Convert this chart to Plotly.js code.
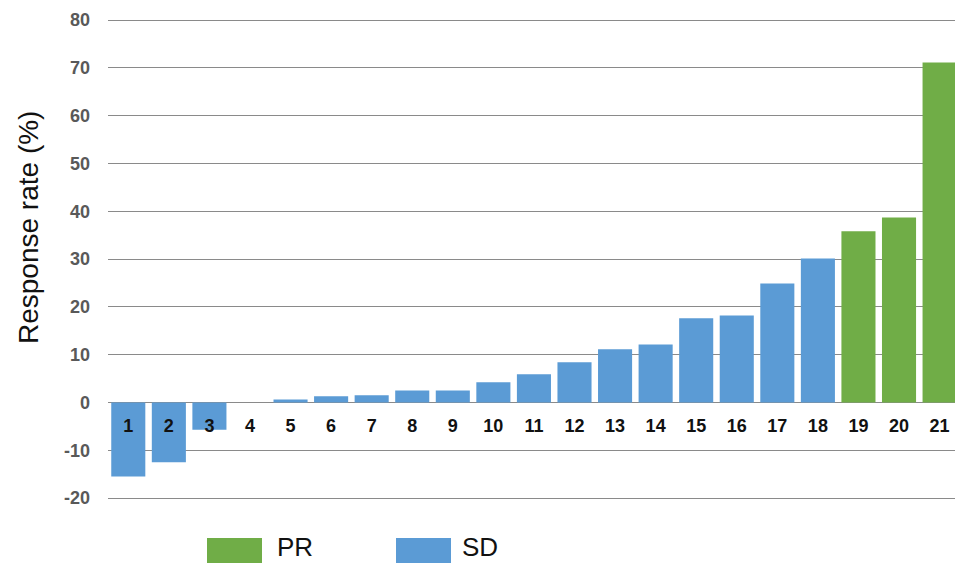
<!DOCTYPE html>
<html>
<head>
<meta charset="utf-8">
<script src="https://cdn.plot.ly/plotly-3.0.1.min.js"></script>
<style>html,body{margin:0;padding:0;background:#fff;}#chart{width:955px;height:563px;}</style>
</head>
<body>
<div id="chart"></div>
<script>
const patients = [1,2,3,4,5,6,7,8,9,10,11,12,13,14,15,16,17,18,19,20,21];
const sdPatients = [1,2,3,4,5,6,7,8,9,10,11,12,13,14,15,16,17,18];
const sdValues = [-15.5,-12.5,-5.7,0,0.6,1.3,1.5,2.5,2.5,4.2,5.9,8.4,11.1,12.1,17.6,18.2,24.9,30.1];
const prPatients = [19,20,21];
const prValues = [35.8,38.7,71.1];
const yTicks = [-20,-10,0,10,20,30,40,50,60,70,80];
const legendLabels = ['PR','SD'];
const blue = '#5B9BD5', green = '#70AD47';

// plot area in pixels: x 108..955, y 15..503 (80 at y=20, -20 at y=498)
const L = 108, W = 847, T = 15, H = 488;
const pxPerUnit = 478 / 100;
const padU = 5 / pxPerUnit;
const yMin = -20 - padU, yMax = 80 + padU;
const px = x => (x - L) / W;
const py = y => (T + H - y) / H;

const traces = [
  {type:'bar', x: sdPatients, y: sdValues, name:'SD', marker:{color: blue}, showlegend:false, hoverinfo:'x+y'},
  {type:'bar', x: prPatients, y: prValues, name:'PR', marker:{color: green}, showlegend:false, hoverinfo:'x+y'}
];

const layout = {
  width: 955, height: 563,
  margin: {l: L, r: 0, t: T, b: 563 - T - H, pad: 0},
  paper_bgcolor: '#fff', plot_bgcolor: '#fff',
  barmode: 'overlay', bargap: 0.16,
  font: {family: 'Liberation Sans, Arial, sans-serif'},
  xaxis: {
    range: [0.5, 21.38],
    tickvals: patients, ticktext: patients.map(String),
    anchor: 'free', position: (0 - yMin) / (yMax - yMin),
    showgrid: false, zeroline: false, showline: false, ticks: '',
    ticklabelstandoff: 11,
    tickfont: {size: 18, color: '#111', family: 'Liberation Sans, Arial, sans-serif', weight: 'bold'},
    fixedrange: true
  },
  yaxis: {
    range: [yMin, yMax],
    tickvals: yTicks, ticktext: yTicks.map(String),
    showgrid: true, gridcolor: '#8a8a8a', gridwidth: 1,
    zeroline: true, zerolinecolor: '#8a8a8a', zerolinewidth: 1,
    showline: false, ticks: '',
    ticklabelstandoff: 17,
    tickfont: {size: 18, color: '#595959', family: 'Liberation Sans, Arial, sans-serif', weight: 'bold'},
    fixedrange: true
  },
  shapes: [
    {type:'rect', xref:'paper', yref:'paper', x0: px(207), x1: px(262), y0: py(538), y1: py(575), fillcolor: green, line:{width:0}},
    {type:'rect', xref:'paper', yref:'paper', x0: px(396), x1: px(451), y0: py(538), y1: py(575), fillcolor: blue, line:{width:0}}
  ],
  annotations: [
    {text: 'Response rate (%)', xref:'paper', yref:'paper', x: px(28), y: py(228), textangle: -90, showarrow:false,
     font:{size: 28, color:'#111', family:'Liberation Sans, Arial, sans-serif'}, xanchor:'center', yanchor:'middle'},
    {text: legendLabels[0], xref:'paper', yref:'paper', x: px(276), y: py(563), showarrow:false, xanchor:'left', yanchor:'bottom', borderpad: 0,
     font:{size: 26, color:'#111', family:'Liberation Sans, Arial, sans-serif'}},
    {text: legendLabels[1], xref:'paper', yref:'paper', x: px(461), y: py(563), showarrow:false, xanchor:'left', yanchor:'bottom', borderpad: 0,
     font:{size: 26, color:'#111', family:'Liberation Sans, Arial, sans-serif'}}
  ]
};

Plotly.newPlot('chart', traces, layout, {displayModeBar: false, staticPlot: true});
</script>
</body>
</html>
